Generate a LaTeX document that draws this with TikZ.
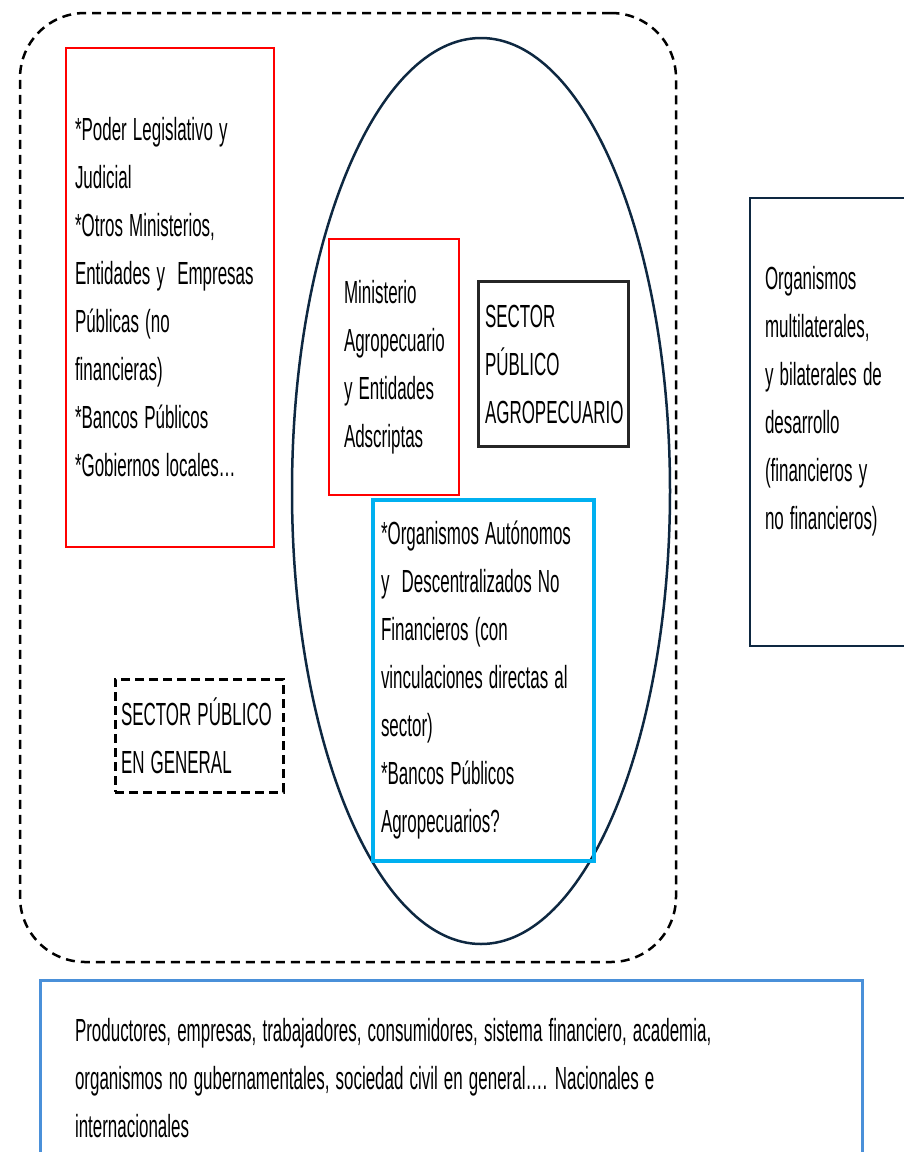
\documentclass[tikz,border=0pt]{standalone}
\usepackage{fontspec}
\setmainfont{Liberation Sans}[FakeStretch=0.53, WordSpace=1.3]
\hyphenpenalty=10000
\usepackage{xcolor}
\usetikzlibrary{shapes.geometric}
\usetikzlibrary{positioning}
\definecolor{navy}{HTML}{0E2841}
\definecolor{celeste}{HTML}{00B0F0}
\definecolor{azul}{HTML}{4A90D9}

\begin{document}
\begin{tikzpicture}
	[x=1pt, y=-1pt, font=\fontsize{32}{48}\selectfont,
	 main/.style = {draw, rectangle, align=flush left, inner ysep=0pt, line width=2pt},
	 dashbox/.style = {draw, dash pattern=on 9pt off 6pt, line width=2.5pt}]
	\useasboundingbox (0,0) rectangle (904,1152);
	\clip (0,0) rectangle (904,1152);
	\node[dashbox, rounded corners=65pt, minimum width=656pt, minimum height=949pt] (1) at (348,487.5) {};
	\node[draw=navy, ellipse, line width=2.5pt, minimum width=378pt, minimum height=906pt, inner sep=0pt] (2) at (481,491) {};
	\node[main, red, text=black, minimum height=499pt, inner xsep=9pt, text width=190pt] (3) at (170,297.5) {*Poder Legislativo y\\ Judicial\\ {*}Otros Ministerios,\\ Entidades y~ Empresas\\ Públicas (no\\ financieras)\\ {*}Bancos Públicos\\ {*}Gobiernos locales…};
	\node[main, red, text=black, minimum height=256pt, inner xsep=15pt, text width=100pt] (4) at (394,367) {Ministerio\\ Agropecuario\\ y Entidades\\ Adscriptas};
	\node[main, black!85, text=black, line width=3pt, minimum height=165pt, inner xsep=7pt, text width=136pt] (5) [right of = 4, node distance=159pt, yshift=3pt] {SECTOR\\ PÚBLICO\\ AGROPECUARIO};
	\node[main, celeste, text=black, line width=3.5pt, minimum height=361pt, inner xsep=8pt, text width=205pt] (6) at (483.5,680.5) {*Organismos Autónomos\\ y~ Descentralizados No\\ Financieros (con\\ vinculaciones directas al\\ sector)\\ {*}Bancos Públicos\\ Agropecuarios?};
	\node[main, dashbox, dash pattern=on 9pt off 5pt, line width=3pt, minimum height=113pt, inner xsep=6pt, text width=156pt] (7) at (199,735.5) {SECTOR PÚBLICO\\ EN GENERAL};
	\node[main, navy, text=black, line width=2.5pt, minimum height=448pt, inner xsep=15pt, text width=140pt] (8) at (835,422) {Organismos\\ multilaterales,\\ y bilaterales de\\ desarrollo\\ (financieros y\\ no financieros)\\ \mbox{}};
	\node[main, azul, text=black, line width=3pt, minimum height=196pt, inner xsep=35pt, text width=752pt] (9) at (451,1078) {Productores, empresas, trabajadores, consumidores, sistema financiero, academia,\\ organismos no gubernamentales, sociedad civil en general…. Nacionales e\\ internacionales};
\end{tikzpicture}
\end{document}
